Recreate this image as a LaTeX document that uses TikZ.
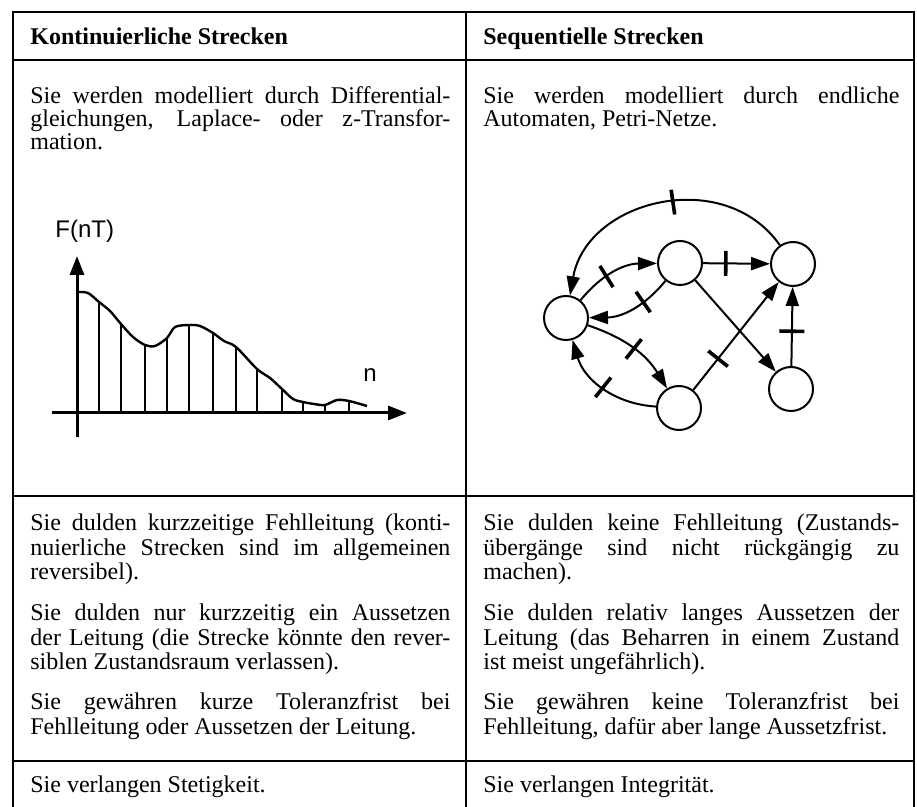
\documentclass[tikz,border=0pt]{standalone}
\usepackage{fontspec}
\setmainfont{Liberation Serif}
\newfontfamily\plotfont{Liberation Sans}
\usetikzlibrary{arrows.meta,decorations.markings}

\tikzset{
	tabline/.style={line width=0.9pt},
	kopf/.style={inner sep=0pt, anchor=base west, font=\fontsize{12}{14}\selectfont\bfseries},
	zelle/.style={inner sep=0pt, anchor=base west, text width=210pt, align=justify, font=\fontsize{12}{12.25}\selectfont},
	achse/.style={line width=1.5pt, -{Triangle[length=9.5pt,width=7pt]}},
	zustand/.style={draw, circle, line width=1pt, minimum size=22pt, inner sep=0pt},
	trans/.style={line width=1pt, -{Triangle[length=9.5pt,width=6.5pt]}},
	sperre/.style={postaction={decorate}, decoration={markings, mark=at position #1 with {\draw[line width=1.8pt, -] (0,-6.25pt) -- (0,6.25pt);}}}
}

\begin{document}
\begin{tikzpicture}[x=0.5pt, y=-0.5pt]
	\useasboundingbox (0,0) rectangle (917,807);
	% Tabelle
	\draw[tabline] (13,807) -- (13,12) -- (914,12) -- (914,807);
	\draw[tabline] (466,12) -- (466,807);
	\foreach \y in {60,496,761}
		\draw[tabline] (13,\y) -- (914,\y);

	\node[kopf] (kopfL) at (30,45) {Kontinuierliche Strecken};
	\node[kopf] (kopfR) at (483,45) {Sequentielle Strecken};

	\node[zelle, font=\fontsize{12}{11.5}\selectfont] (modL) at (30,104) {Sie werden modelliert durch Differential-\linebreak gleichungen, Laplace- oder z-Transfor-\linebreak mation.};
	\node[zelle, text width=208pt, font=\fontsize{12}{11.5}\selectfont] (modR) at (483,104) {Sie werden modelliert durch endliche\linebreak Automaten, Petri-Netze.};

	\node[zelle] (l1) at (30,531) {Sie dulden kurzzeitige Fehlleitung (konti-\linebreak nuierliche Strecken sind im allgemeinen\linebreak reversibel).};
	\node[zelle] (l2) at (30,621) {Sie dulden nur kurzzeitig ein Aussetzen\linebreak der Leitung (die Strecke könnte den rever-\linebreak siblen Zustandsraum verlassen).};
	\node[zelle] (l3) at (30,710) {Sie gewähren kurze Toleranzfrist bei\linebreak Fehlleitung oder Aussetzen der Leitung.};
	\node[zelle] (l4) at (30,793) {Sie verlangen Stetigkeit.};

	\node[zelle, text width=208pt] (r1) at (483,531) {Sie dulden keine Fehlleitung (Zustands-\linebreak übergänge sind nicht rückgängig zu\linebreak machen).};
	\node[zelle, text width=208pt] (r2) at (483,621) {Sie dulden relativ langes Aussetzen der\linebreak Leitung (das Beharren in einem Zustand\linebreak ist meist ungefährlich).};
	\node[zelle, text width=208pt] (r3) at (483,710) {Sie gewähren keine Toleranzfrist bei\linebreak Fehlleitung, dafür aber lange Aussetzfrist.};
	\node[zelle, text width=208pt] (r4) at (483,793) {Sie verlangen Integrität.};

	% Abtastfolge
	\node[kopf, font=\fontsize{12}{14}\selectfont\plotfont] (fnt) at (55,238) {F(nT)};
	\node[kopf, font=\fontsize{12}{14}\selectfont\plotfont] (n) at (363,382) {n};
	\draw[achse] (77,437) -- (77,256);
	\draw[achse] (52,413) -- (407,413);
	\draw[line width=1.2pt] plot[smooth, tension=0.5] coordinates {(77,292) (88,293) (99,302) (110,311) (121,324) (133,337) (145,345) (155,346) (167,338) (175,327) (189,325) (200,326) (213,333) (224,341) (236,347) (257,369) (270,378) (282,389) (293,399) (303,402) (314,404) (325,405) (337,400) (349,401) (367,406)};
	\foreach \x/\y in {99/302,121/324,145/345,167/338,189/325,213/333,236/347,257/369,282/389,303/402,325/405,349/401}
		\draw[line width=0.85pt] (\x,413) -- (\x,\y);

	% Automat
	\node[zustand] (A) at (566,318) {};
	\node[zustand] (B) at (680,263) {};
	\node[zustand] (C) at (793,264) {};
	\node[zustand] (D) at (679,408) {};
	\node[zustand] (E) at (791,389) {};

	\draw[trans, sperre=0.45] (C) to[out=125, in=80, looseness=1.15] (A);
	\draw[trans, sperre=0.4] (A) to[bend left=25] (B);
	\draw[trans, sperre=0.35] (B) to[bend left=25] (A);
	\draw[trans, sperre=0.34] (B) -- (C);
	\draw[trans] (B) -- (E);
	\draw[trans, sperre=0.29] (D) -- (C);
	\draw[trans, sperre=0.44] (E) -- (C);
	\draw[trans, sperre=0.5] (A) to[bend left=20] (D);
	\draw[trans, sperre=0.5] (D) to[bend left=35] (A);
\end{tikzpicture}
\end{document}
